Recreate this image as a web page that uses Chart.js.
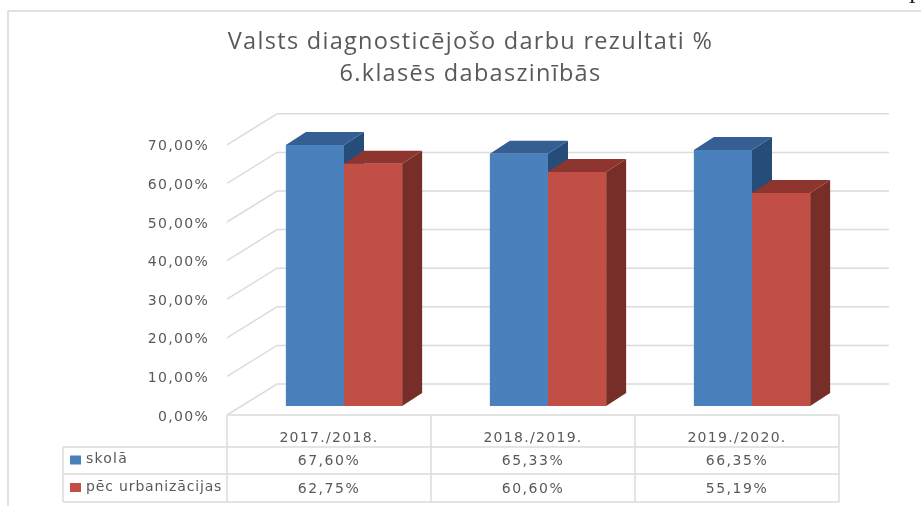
<!DOCTYPE html>
<html><head><meta charset="utf-8">
<style>html,body{margin:0;padding:0;background:#fff}canvas{display:block;filter:blur(0.4px)}</style>
<script src="https://cdn.jsdelivr.net/npm/chart.js@4"></script>
</head><body><canvas id="c" width="921" height="506"></canvas>
<script>
const categories = ['2017./2018.', '2018./2019.', '2019./2020.'];
const seriesNames = ['skolā', 'pēc urbanizācijas'];
const skola = [67.60, 65.33, 66.35];
const urbanizacija = [62.75, 60.60, 55.19];
const titleLines = ['Valsts diagnosticējošo darbu rezultati %', '6.klasēs dabaszinībās'];

const TXT = '#595959', GRID = '#dcdcdc', FONT = '"DejaVu Sans"';
const faces = [{front:'#4a81bd', top:'#355f92', side:'#264d7a'}, {front:'#c24f45', top:'#8f3530', side:'#772e28'}];
const pct = v => v.toFixed(2).replace('.', ',') + '%';
const DX = 20, DY = 13;

const plugin3d = {
  id: 'plugin3d',
  beforeDraw(chart) {
    const {ctx, scales:{x, y}} = chart;
    ctx.save();
    // page frame
    ctx.strokeStyle = '#d8d8d8'; ctx.lineWidth = 1.5;
    ctx.beginPath(); ctx.moveTo(8, 506); ctx.lineTo(8, 11); ctx.lineTo(921, 11); ctx.stroke();
    ctx.fillStyle = '#222'; ctx.font = 'bold 15px "Liberation Serif"';
    ctx.textAlign = 'center'; ctx.textBaseline = 'alphabetic';
    ctx.fillText('1', 912, 3);
    // walls' gridlines
    const x0 = x.left - 15, x1 = x.left + 35, x2 = x.right + 35;
    ctx.strokeStyle = GRID; ctx.lineWidth = 1.5;
    y.ticks.forEach(t => {
      const p = y.getPixelForValue(t.value);
      ctx.beginPath(); ctx.moveTo(x0, p + 9); ctx.lineTo(x1, p - 22); ctx.lineTo(x2, p - 22); ctx.stroke();
    });
    // data table
    const w = x.width / categories.length;
    const rows = [415, 447, 474, 502];
    const tl = 63;
    ctx.beginPath();
    ctx.moveTo(x0, rows[0]); ctx.lineTo(x0 + 3 * w, rows[0]);
    for (let r = 1; r < 4; r++) { ctx.moveTo(tl, rows[r]); ctx.lineTo(x0 + 3 * w, rows[r]); }
    ctx.moveTo(tl, rows[1]); ctx.lineTo(tl, rows[3]);
    for (let i = 0; i <= 3; i++) { ctx.moveTo(x0 + i * w, rows[0]); ctx.lineTo(x0 + i * w, rows[3]); }
    ctx.stroke();
    ctx.font = '14px ' + FONT; ctx.textBaseline = 'middle';
    [skola, urbanizacija].forEach((vals, s) => {
      const cy = (rows[s + 1] + rows[s + 2]) / 2;
      ctx.fillStyle = faces[s].front; ctx.fillRect(70, cy - 5, 11, 9);
      ctx.fillStyle = TXT; ctx.textAlign = 'left';
      ctx.letterSpacing = s ? '0.85px' : '1.2px';
      ctx.fillText(seriesNames[s], 86, cy - 1);
      ctx.letterSpacing = '1.5px';
      ctx.textAlign = 'center';
      vals.forEach((v, i) => ctx.fillText(pct(v), x0 + (i + .5) * w, cy + 1));
    });
    ctx.restore();
    ctx.letterSpacing = '1.3px';
  },
  beforeDatasetsDraw(chart) {
    const {ctx} = chart;
    ctx.letterSpacing = '0px';
    categories.forEach((_, i) => {
      chart.data.datasets.forEach((d, s) => {
        const b = chart.getDatasetMeta(s).data[i];
        const L = b.x - b.width / 2, R = b.x + b.width / 2, T = b.y, B = b.base;
        ctx.fillStyle = faces[s].side;
        ctx.beginPath(); ctx.moveTo(R, T); ctx.lineTo(R + DX, T - DY); ctx.lineTo(R + DX, B - DY); ctx.lineTo(R, B); ctx.closePath(); ctx.fill();
        ctx.fillStyle = faces[s].top;
        ctx.beginPath(); ctx.moveTo(L, T); ctx.lineTo(L + DX, T - DY); ctx.lineTo(R + DX, T - DY); ctx.lineTo(R, T); ctx.closePath(); ctx.fill();
      });
    });
  }
};

new Chart(document.getElementById('c'), {
  type: 'bar',
  data: {
    labels: categories,
    datasets: [
      {label: seriesNames[0], data: skola, backgroundColor: faces[0].front},
      {label: seriesNames[1], data: urbanizacija, backgroundColor: faces[1].front}
    ]
  },
  plugins: [plugin3d],
  options: {
    responsive: false, animation: false, devicePixelRatio: 1,
    datasets: {bar: {barPercentage: 1, categoryPercentage: 0.57}},
    layout: {padding: {left: 87, right: 67, top: 0, bottom: 0}},
    plugins: {
      legend: {display: false}, tooltip: {enabled: false},
      title: {display: true, text: titleLines, color: TXT,
        font: {family: '"Open Sans"', size: 23.5, weight: 'normal', lineHeight: 1.37},
        padding: {top: 26, bottom: 45.4}}
    },
    scales: {
      x: {
        grid: {display: false}, border: {display: false},
        ticks: {color: TXT, font: {family: FONT, size: 14}, padding: 16, labelOffset: -15, maxRotation: 0, autoSkip: false},
        afterFit(s) { s.height = 100; }
      },
      y: {
        min: 0, max: 70,
        grid: {display: false}, border: {display: false},
        ticks: {color: TXT, font: {family: FONT, size: 14}, stepSize: 10, padding: 25, labelOffset: 11,
          callback: v => pct(v)},
        afterFit(s) { s.width = 155; }
      }
    }
  }
});
</script></body></html>
